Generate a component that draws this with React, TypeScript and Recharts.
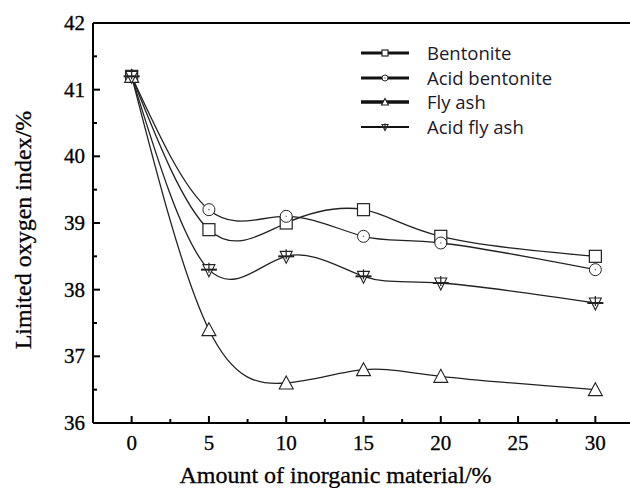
import React from 'react';
import { LineChart, Line, XAxis, YAxis, Legend, ReferenceLine, Label } from 'recharts';

const amounts = [0, 5, 10, 15, 20, 30];
const bentonite = [41.2, 38.9, 39.0, 39.2, 38.8, 38.5];
const acidBentonite = [41.2, 39.2, 39.1, 38.8, 38.7, 38.3];
const flyAsh = [41.2, 37.4, 36.6, 36.8, 36.7, 36.5];
const acidFlyAsh = [41.2, 38.3, 38.5, 38.2, 38.1, 37.8];

const xTicks = [0, 2.5, 5, 7.5, 10, 12.5, 15, 17.5, 20, 22.5, 25, 27.5, 30];
const yTicks = [36, 36.5, 37, 37.5, 38, 38.5, 39, 39.5, 40, 40.5, 41, 41.5, 42];

const data = amounts.map((a, i) => ({
    amount: a,
    bentonite: bentonite[i],
    acidBentonite: acidBentonite[i],
    flyAsh: flyAsh[i],
    acidFlyAsh: acidFlyAsh[i],
}));

const INK = '#222';
const serif = '"Liberation Serif", "Times New Roman", serif';

type MarkerKind = 'square' | 'circle' | 'up' | 'down';

function Marker({ kind, cx, cy, s = 1 }: { kind: MarkerKind; cx: number; cy: number; s?: number }) {
    if (kind === 'square') {
        const h = 6 * s;
        return <rect x={cx - h} y={cy - h} width={h * 2} height={h * 2} fill="#fff" stroke={INK} strokeWidth={1.2} />;
    }
    if (kind === 'circle') {
        return (
            <g>
                <circle cx={cx} cy={cy} r={6 * s} fill="#fff" stroke={INK} strokeWidth={1} />
                <circle cx={cx} cy={cy} r={0.8} fill="#777" />
            </g>
        );
    }
    if (kind === 'up') {
        const w = 7 * s;
        return <path d={`M${cx},${cy - 7 * s} L${cx + w},${cy + 6 * s} L${cx - w},${cy + 6 * s} Z`} fill="#fff" stroke={INK} strokeWidth={1.1} />;
    }
    const w = 6 * s;
    return (
        <g>
            <path d={`M${cx - w},${cy - 5 * s} L${cx + w},${cy - 5 * s} L${cx},${cy + 7 * s} Z`} fill="#fff" stroke={INK} strokeWidth={1.1} />
            <line x1={cx - 8 * s} x2={cx + 8 * s} y1={cy} y2={cy} stroke={INK} strokeWidth={2} />
            <line x1={cx} x2={cx} y1={cy - 7 * s} y2={cy + 3 * s} stroke={INK} strokeWidth={1.2} />
        </g>
    );
}

const dot = (kind: MarkerKind) => (p: any) => <Marker key={`${kind}-${p.index}`} kind={kind} cx={p.cx} cy={p.cy} />;

const series = [
    { key: 'bentonite', name: 'Bentonite', kind: 'square' as MarkerKind, lw: 3 },
    { key: 'acidBentonite', name: 'Acid bentonite', kind: 'circle' as MarkerKind, lw: 3 },
    { key: 'flyAsh', name: 'Fly ash', kind: 'up' as MarkerKind, lw: 3.5 },
    { key: 'acidFlyAsh', name: 'Acid fly ash', kind: 'down' as MarkerKind, lw: 2 },
];

function YTick(props: any) {
    const { x, y, payload } = props;
    const major = Number.isInteger(payload.value);
    return (
        <g>
            <line x1={x} x2={x + (major ? 7 : 4)} y1={y} y2={y} stroke="#000" strokeWidth={2} />
            {major && (
                <text x={x - 8} y={y} dy={7} textAnchor="end" fontFamily={serif} fontSize={21} fill="#000" stroke="#000" strokeWidth={0.3}>
                    {payload.value}
                </text>
            )}
        </g>
    );
}

function XTick(props: any) {
    const { x, y, payload } = props;
    const major = payload.value % 5 === 0;
    return (
        <g>
            <line x1={x} x2={x} y1={y} y2={y - (major ? 7 : 4)} stroke="#000" strokeWidth={2} />
            {major && (
                <text x={x} y={y} dy={27} textAnchor="middle" fontFamily={serif} fontSize={21} fill="#000" stroke="#000" strokeWidth={0.3}>
                    {payload.value}
                </text>
            )}
        </g>
    );
}

function LegendBox() {
    return (
        <div style={{ fontFamily: '"Open Sans", "Noto Sans", sans-serif', fontSize: 18.5, color: '#1a1a2a', lineHeight: 1 }}>
            {series.map((s) => (
                <div key={s.key} style={{ display: 'flex', alignItems: 'center', height: 24.5 }}>
                    <svg width={66} height={20}>
                        <line x1={0} x2={48} y1={10} y2={10} stroke="#111" strokeWidth={s.lw} />
                        <Marker kind={s.kind} cx={24} cy={10} s={0.5} />
                    </svg>
                    <span>{s.name}</span>
                </div>
            ))}
        </div>
    );
}

export default function App() {
    return (
        <div style={{ position: 'fixed', left: 0, top: 0, width: 630, height: 488, overflow: 'hidden', background: '#fff' }}>
            <LineChart width={640} height={488} data={data} margin={{ top: 23, right: 6, left: 0, bottom: 0 }}>
                <XAxis
                    dataKey="amount"
                    type="number"
                    domain={[-2.5, 32.5]}
                    ticks={xTicks}
                    interval={0}
                    height={65}
                    tickLine={false}
                    tickSize={0}
                    tickMargin={0}
                    tick={<XTick />}
                    axisLine={{ stroke: '#000', strokeWidth: 2 }}
                >
                    <Label value="Amount of inorganic material/%" position="center" dx={-28} dy={19} fontFamily={serif} fontSize={24} fill="#000" stroke="#000" strokeWidth={0.3} />
                </XAxis>
                <YAxis
                    type="number"
                    domain={[36, 42]}
                    ticks={yTicks}
                    interval={0}
                    width={93}
                    tickLine={false}
                    tickSize={0}
                    tickMargin={0}
                    tick={<YTick />}
                    axisLine={{ stroke: '#000', strokeWidth: 2 }}
                >
                    <Label value="Limited oxygen index/%" position="center" angle={-90} dx={-24} dy={7} fontFamily={serif} fontSize={24} fill="#000" stroke="#000" strokeWidth={0.3} />
                </YAxis>
                <ReferenceLine y={42} stroke="#000" strokeWidth={2} />
                <ReferenceLine x={32.5} stroke="#000" strokeWidth={2} />
                <Legend
                    layout="vertical"
                    align="center"
                    verticalAlign="middle"
                    wrapperStyle={{ position: 'absolute', left: 361, top: 41, width: 220 }}
                    content={() => <LegendBox />}
                />
                {series.map((s) => (
                    <Line
                        key={s.key}
                        type="natural"
                        dataKey={s.key}
                        name={s.name}
                        stroke={INK}
                        strokeWidth={1.3}
                        dot={dot(s.kind)}
                        activeDot={false}
                        isAnimationActive={false}
                    />
                ))}
            </LineChart>
        </div>
    );
}
